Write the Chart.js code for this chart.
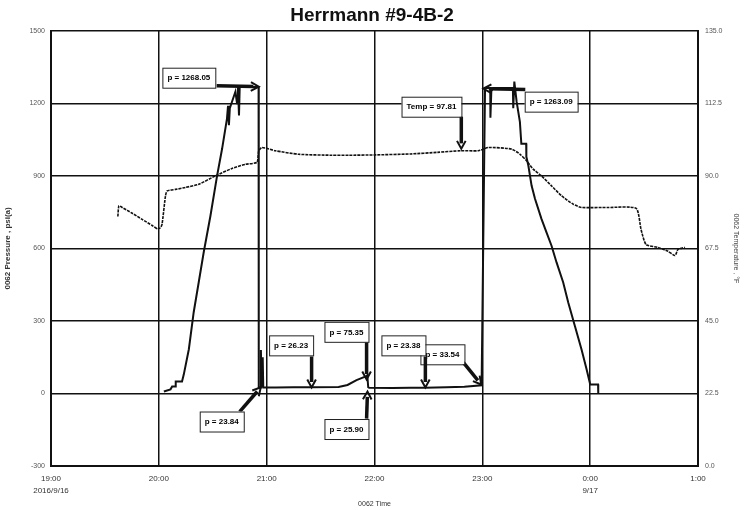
<!DOCTYPE html>
<html>
<head>
<meta charset="utf-8">
<script src="https://cdn.jsdelivr.net/npm/chart.js@4"></script>
<style>
  html, body { margin: 0; padding: 0; background: #fff; }
  #wrap { width: 744px; height: 510px; }
</style>
</head>
<body>
<div id="wrap"><canvas id="c" width="744" height="510"></canvas></div>
<script>
// minutes after 19:00 on 2016/9/16
const xTickLabels = [['19:00', '2016/9/16'], '20:00', '21:00', '22:00', '23:00', ['0:00', '9/17'], '1:00'];

const pressureTime = [
  62.8, 66.5, 67.4, 69.3, 69.4, 72.9, 73.9, 76.7, 79.4, 82.2,
  85, 88.7, 92.4, 95.2, 97.9, 98.5, 99, 99.5, 102.6, 103.5,
  104, 104.6, 105, 115.5, 115.6, 116.5, 116.8, 117.1, 117.8, 118.1,
  125, 135, 145, 160, 165, 170, 175.5, 176, 176.5, 177,
  190, 200, 208, 220, 230, 239.6, 241.5, 244.4, 244.5, 245,
  246, 257, 257.2, 257.8, 259.1, 260.9, 261.7, 264.4, 264.5, 265.6,
  267.4, 269.3, 272.9, 275.7, 278.5, 281.3, 285, 287.8, 291.5, 295.2,
  298, 299.8, 300, 304.4, 304.5
];
const pressureValues = [
  8, 17, 29, 29, 50, 50, 79, 183, 336, 460,
  585, 734, 900, 1012, 1136, 1190, 1110, 1180, 1248, 1200,
  1275, 1150, 1268, 1268, 25, 25, 180, 25, 150, 25,
  25, 26, 26.2, 27, 35, 55, 72, 75.35, 25.9, 24,
  23, 24, 23.4, 26, 28, 33.5, 1263, 1263, 1140, 1250,
  1263, 1263, 1180, 1290, 1206, 1123, 1033, 1033, 979, 943,
  860, 805, 722, 666, 611, 542, 459, 376, 279, 182,
  100, 44, 37, 37, 0
];

const tempTime = [
  37.2, 37.8, 39.6, 45.2, 50.7, 56.3, 59.1, 60.9, 61.8, 63.7,
  64.6, 69.3, 74.8, 82.2, 91.5, 100.7, 108.2, 114.6, 115.6, 117.4,
  124.8, 137.8, 156.3, 165.6, 180, 200, 215, 228, 237.8, 243.3,
  256.3, 261, 264.6, 268.3, 272.9, 278.5, 284.1, 290.6, 295.2, 310,
  325.6, 328.3, 331.1, 337.8, 343.3, 347.2, 348.9, 352.8
];
const tempValues = [
  77.4, 80.7, 80.2, 78.4, 76.5, 74.6, 73.6, 73.9, 75, 83.8,
  85.3, 85.8, 86.4, 87.4, 90, 92.3, 93.6, 94.2, 97.8, 98.8,
  97.8, 96.7, 96.4, 96.4, 96.5, 96.8, 97.3, 97.8, 97.8, 98.8,
  98.3, 96.7, 94.7, 92.1, 90, 86.9, 83.8, 81.2, 80.2, 80.2,
  79.9, 73.4, 68.7, 67.8, 66.6, 65.3, 67.2, 67.8
];

// callout boxes: text, box centre, arrow start and tip, all in (minutes, psi)
const callouts = [
  { text: 'p = 1268.05', at: [76.7, 1306], from: [92.2, 1273], to: [115.6, 1269] },
  { text: 'Temp = 97.81', at: [211.7, 1186], from: [228.3, 1145], to: [228.3, 1012] },
  { text: 'p = 1263.09', at: [278.3, 1207], from: [263.9, 1257], to: [240.6, 1261] },
  { text: 'p = 23.84', at: [95, -116], from: [105, -75], to: [116.7, 25] },
  { text: 'p = 26.23', at: [133.6, 199], from: [145, 153], to: [145, 25] },
  { text: 'p = 75.35', at: [164.4, 255], from: [175.6, 211], to: [175.6, 58] },
  { text: 'p = 25.90', at: [164.4, -147], from: [175.6, -104], to: [176.1, 8] },
  { text: 'p = 33.54', at: [217.8, 162], from: [229.4, 129], to: [239.4, 37] },
  { text: 'p = 23.38', at: [196.1, 199], from: [208.3, 153], to: [208.3, 25] }
];

const FONT = '"Liberation Sans", Arial, sans-serif';

const calloutPlugin = {
  id: 'callouts',
  afterDatasetsDraw(chart) {
    const ctx = chart.ctx;
    const xs = chart.scales.x, ys = chart.scales.y;
    ctx.save();
    callouts.forEach(c => {
      const x1 = xs.getPixelForValue(c.from[0]), y1 = ys.getPixelForValue(c.from[1]);
      const x2 = xs.getPixelForValue(c.to[0]), y2 = ys.getPixelForValue(c.to[1]);
      const ang = Math.atan2(y2 - y1, x2 - x1);
      const head = 9;
      ctx.strokeStyle = '#111';
      ctx.lineWidth = 3.5;
      ctx.beginPath();
      ctx.moveTo(x1, y1);
      ctx.lineTo(x2 - Math.cos(ang) * head * 0.6, y2 - Math.sin(ang) * head * 0.6);
      ctx.stroke();
      ctx.lineWidth = 2;
      ctx.beginPath();
      ctx.moveTo(x2 - Math.cos(ang - 0.5) * head, y2 - Math.sin(ang - 0.5) * head);
      ctx.lineTo(x2, y2);
      ctx.lineTo(x2 - Math.cos(ang + 0.5) * head, y2 - Math.sin(ang + 0.5) * head);
      ctx.stroke();

      ctx.font = 'bold 8px ' + FONT;
      const w = ctx.measureText(c.text).width + 10;
      const h = 20;
      const cx = xs.getPixelForValue(c.at[0]), cy = ys.getPixelForValue(c.at[1]);
      ctx.fillStyle = '#fff';
      ctx.fillRect(cx - w / 2, cy - h / 2, w, h);
      ctx.strokeStyle = '#222';
      ctx.lineWidth = 1;
      ctx.strokeRect(cx - w / 2 + 0.5, cy - h / 2 + 0.5, w, h);
      ctx.fillStyle = '#000';
      ctx.textAlign = 'center';
      ctx.textBaseline = 'middle';
      ctx.fillText(c.text, cx, cy + 0.5);
    });
    ctx.restore();
  }
};

new Chart(document.getElementById('c'), {
  type: 'line',
  data: {
    datasets: [
      {
        label: 'Pressure',
        data: pressureTime.map((t, i) => ({ x: t, y: pressureValues[i] })),
        yAxisID: 'y',
        borderColor: '#111',
        borderWidth: 2,
        pointRadius: 0,
        tension: 0
      },
      {
        label: 'Temperature',
        data: tempTime.map((t, i) => ({ x: t, y: tempValues[i] })),
        yAxisID: 'y1',
        borderColor: '#111',
        borderWidth: 1.6,
        borderDash: [3, 1],
        pointRadius: 0,
        tension: 0.2
      }
    ]
  },
  options: {
    responsive: false,
    animation: false,
    layout: { padding: 0 },
    plugins: {
      legend: { display: false },
      tooltip: { enabled: false },
      title: {
        display: true,
        text: 'Herrmann #9-4B-2',
        color: '#111',
        font: { family: FONT, size: 19, weight: 'bold' },
        padding: { top: 4, bottom: 4 }
      }
    },
    scales: {
      x: {
        type: 'linear',
        min: 0,
        max: 360,
        afterFit(s) { s.height = 44; },
        afterBuildTicks(s) {
          s.ticks = xTickLabels.map((_, i) => ({ value: i * 60 }));
        },
        ticks: {
          autoSkip: false,
          maxRotation: 0,
          padding: 7,
          color: '#333',
          font: { family: FONT, size: 8, lineHeight: 1.5 },
          callback: (v) => xTickLabels[Math.round(v / 60)]
        },
        grid: { color: '#111', lineWidth: 1.5, drawTicks: false },
        border: { color: '#111', width: 2 },
        title: {
          display: true,
          text: '0062 Time',
          color: '#333',
          font: { family: FONT, size: 7 },
          padding: { top: 0, bottom: 2 }
        }
      },
      y: {
        position: 'left',
        min: -300,
        max: 1500,
        afterFit(s) { s.width = 51; },
        ticks: {
          stepSize: 300,
          padding: 6,
          color: '#555',
          font: { family: FONT, size: 7 },
          callback: (v) => String(v)
        },
        grid: { color: '#111', lineWidth: 1.5, drawTicks: false },
        border: { color: '#111', width: 2 },
        title: {
          display: true,
          text: '0062 Pressure , psi(a)',
          color: '#333',
          font: { family: FONT, size: 8, weight: 'bold' },
          padding: { top: 3, bottom: 6 }
        }
      },
      y1: {
        position: 'right',
        min: 0,
        max: 135,
        afterFit(s) { s.width = 46; },
        afterBuildTicks(s) {
          const t = [];
          for (let v = 0; v <= 135; v += 22.5) t.push({ value: v });
          s.ticks = t;
        },
        ticks: {
          padding: 7,
          color: '#555',
          font: { family: FONT, size: 7 },
          callback: (v) => Number(v).toFixed(1)
        },
        grid: { drawOnChartArea: false, drawTicks: false },
        border: { color: '#111', width: 2 },
        title: {
          display: true,
          text: '0062 Temperature , °F',
          color: '#444',
          font: { family: FONT, size: 7 },
          padding: { top: 4, bottom: 0 }
        }
      }
    }
  },
  plugins: [calloutPlugin]
});
</script>
</body>
</html>
